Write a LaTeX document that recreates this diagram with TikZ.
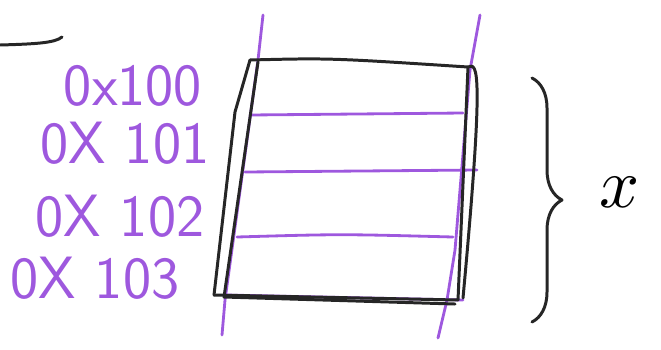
\documentclass[tikz,border=0pt]{standalone}
\usepackage{tikz}
\usetikzlibrary{positioning,calc,decorations.pathreplacing}
\definecolor{marker}{RGB}{158,88,222}

\begin{document}
\begin{tikzpicture}[
        x=0.02cm, y=-0.02cm,
        address/.style={
            text=marker,
            font=\sffamily\fontsize{34}{40}\selectfont,
            inner sep=0pt
        },
        pen/.style={draw=black!85, line width=1.7pt, line join=round, line cap=round},
        ink/.style={draw=marker, line width=1.6pt, line join=round, line cap=round}
    ]
    \useasboundingbox (0,0) rectangle (661,349);

    % addresses
    \node[address] (a100) at (133,86) {0x100};
    \node[address] (a101) at (125,143) {0X 101};
    \node[address] (a102) at (120,216) {0X 102};
    \node[address] (a103) at (95,278) {0X 103};

    % corners of the block
    \coordinate (tl) at (250,60);
    \coordinate (tr) at (468,67);
    \coordinate (br) at (458,300);
    \coordinate (bl) at (214,295);

    % purple guides
    \draw[ink] (263,15) -- (258,60) -- (225,300) -- (222,335);
    \draw[ink] (480,15) -- (470,70) -- (455,250) -- (447,300) -- (438,338);
    \draw[ink] (250,115) -- (463,113);
    \draw[ink] (245,172) -- (477,170);
    \draw[ink] (237,237) .. controls (340,234) .. (453,237);
    \draw[ink] (225,295) -- (463,300);

    % the block
    \draw[pen] (0,45) .. controls (35,44) and (55,43) .. (62,37);
    \draw[pen] (tl) .. controls (330,58) .. (tr)
        .. controls (478,62) and (484,70) .. (463,298);
    \draw[pen] (tr) -- (br) -- (bl);
    \draw[pen] (tl) -- (235,112) -- (bl);
    \draw[pen] (258,62) -- (224,297) -- (455,304);

    % size of the block
    \node[scale=4] (var) at (620,192) {$x$};
    \coordinate (bracetop) at (532,78);
    \coordinate (bracebot) at (532,322);
    \draw[pen, decorate, decoration={brace, amplitude=0.6cm}]
        (bracetop) -- (bracebot);
\end{tikzpicture}
\end{document}
